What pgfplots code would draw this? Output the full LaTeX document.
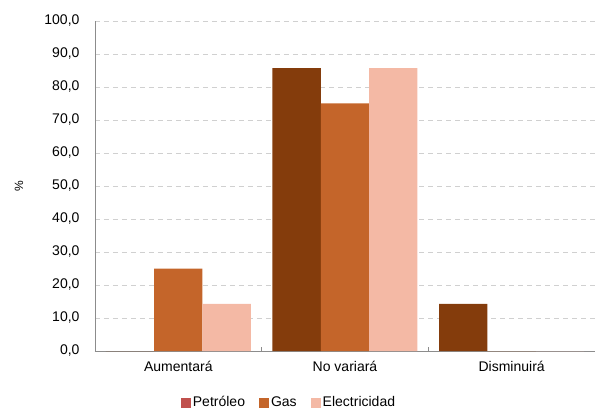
\documentclass[border=0pt]{standalone}
\usepackage{pgfplots}
\pgfplotsset{compat=1.18}
\usepackage{fontspec}
\setmainfont{Liberation Sans}
\definecolor{petro}{HTML}{843C0C}
\definecolor{petroleg}{HTML}{C0504D}
\definecolor{gas}{HTML}{C4652A}
\definecolor{elec}{HTML}{F4B9A5}
\definecolor{axgray}{HTML}{8C8C8C}
\definecolor{gridgray}{HTML}{D0D0D0}
\begin{document}
\begin{tikzpicture}
\begin{axis}[
  name=ax,
  scale only axis,
  width=500pt, height=330pt,
  xmin=-0.5, xmax=2.5,
  ymin=0, ymax=100,
  ytick={0,10,...,100},
  xtick={0,1,2},
  xticklabels={Aumentará,No variará,Disminuirá},
  extra x ticks={0.5,1.5},
  extra x tick labels={},
  extra x tick style={major tick length=4pt, tick style={axgray, line width=0.8pt}, grid=none},
  major tick length=0pt,
  axis x line*=bottom,
  axis y line*=left,
  axis line style={-, axgray, line width=0.9pt},
  ymajorgrids,
  grid style={gridgray, line width=0.9pt, dash pattern=on 5pt off 4pt},
  /pgf/number format/.cd, use comma, fixed, fixed zerofill, precision=1, 1000 sep={}, assume math mode=true,
  /pgfplots/.cd,
  ticklabel style={font=\fontsize{14}{16}\selectfont},
  yticklabel style={xshift=-12pt},
  xticklabel style={yshift=-7pt},
  ylabel={\%},
  ylabel style={font=\fontsize{12}{14}\selectfont, at={(axis description cs:-0.152,0.5)}, anchor=center},
  bar width=0.29,
  legend style={draw=none, at={(0.388,-0.158)}, anchor=center, legend columns=3,
    font=\fontsize{14}{16}\selectfont,
    nodes={text height=10pt, text depth=3pt, inner xsep=2pt},
    /tikz/every even column/.append style={column sep=12pt}},
  legend image code/.code={\fill[#1] (0pt,-5pt) rectangle (10pt,5pt);},
]
\addplot[ybar, fill=petro, draw=none, bar shift=-0.29,
  legend image code/.code={\fill[petroleg] (0pt,-5pt) rectangle (10pt,5pt);}]
  coordinates {(0,0) (1,85.7) (2,14.3)};
\addlegendentry{Petróleo}
\addplot[ybar, fill=gas, draw=none, bar shift=0]
  coordinates {(0,25.0) (1,75.0) (2,0)};
\addlegendentry{Gas}
\addplot[ybar, fill=elec, draw=none, bar shift=0.29]
  coordinates {(0,14.3) (1,85.7) (2,0)};
\addlegendentry{Electricidad}
\end{axis}
\pgfresetboundingbox
\path (ax.south west) ++(-95pt,-59pt) rectangle ++(595pt,410pt);
\end{tikzpicture}
\end{document}
